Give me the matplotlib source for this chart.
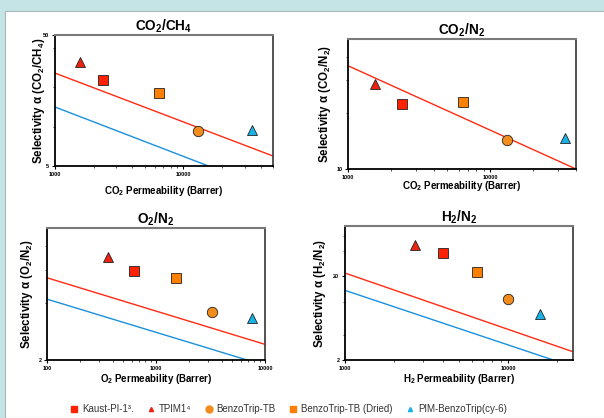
import matplotlib
matplotlib.use('Agg')
import matplotlib.pyplot as plt
from matplotlib.patches import Rectangle
from matplotlib.lines import Line2D
from matplotlib.ticker import FixedLocator, NullFormatter

plt.rcParams['font.family'] = ['Liberation Sans', 'DejaVu Sans']
plt.rcParams['mathtext.fontset'] = 'custom'
plt.rcParams['mathtext.rm'] = 'Liberation Sans:bold'
plt.rcParams['mathtext.bf'] = 'Liberation Sans:bold'

# 材料名称 (图例顺序)
materials = ['Kaust-PI-1³.', 'TPIM1⁴', 'BenzoTrip-TB', 'BenzoTrip-TB (Dried)', 'PIM-BenzoTrip(cy-6)']

# 各气体对的渗透率 / 选择性 (顺序同 materials)
co2ch4_perm = [2370, 1570, 13100, 6490, 34000]
co2ch4_sel = [22.7, 31.1, 9.25, 18.0, 9.4]
co2n2_perm = [2400, 1550, 13200, 6450, 33700]
co2n2_sel = [22.4, 28.6, 14.3, 22.9, 14.7]
o2n2_perm = [628, 363, 3265, 1525, 7590]
o2n2_sel = [5.92, 7.02, 3.59, 5.43, 3.33]
h2n2_perm = [3990, 2690, 10000, 6455, 15700]
h2n2_sel = [37.6, 48.0, 10.6, 22.3, 7.06]

# 上限线 (Robeson) 端点
co2ch4_red = ([1000, 50000], [25.6, 5.96])
co2ch4_blue = ([1000, 15700], [14.1, 5.0])
co2n2_red = ([1000, 40300], [35.9, 10.0])
o2n2_red = ([100, 10000], [5.45, 2.42])
o2n2_blue = ([100, 6840], [4.2, 2.0])
h2n2_red = ([1000, 25000], [21.9, 2.51])
h2n2_blue = ([1000, 18900], [13.6, 2.0])

# 标记样式
marker_styles = [
    ('s', '#ff2200'),
    ('^', '#ee2211'),
    ('o', '#f28c1c'),
    ('s', '#ff8000'),
    ('^', '#17b2e6'),
]
red_line = '#ff2a12'
blue_line = '#1a90dc'

fig = plt.figure(figsize=(6.04, 4.18), dpi=100)
fig.patch.set_facecolor('#c4e4e6')
fig.patches.append(Rectangle((5/604, 0), 1, 1 - 11/418, transform=fig.transFigure,
                             facecolor='white', edgecolor='#a8b8ba', linewidth=0.8,
                             zorder=-10))


def draw_panel(rect, title, xlabel, ylabel, perm, sel, lines, xlim, ylim,
               xlabels, ylabels, yminor, xlab_y, ylab_x):
    ax = fig.add_axes(rect)
    ax.set_facecolor('white')
    ax.set_xscale('log')
    ax.set_yscale('log')
    ax.set_xlim(*xlim)
    ax.set_ylim(*ylim)
    for (xs, ys), c in lines:
        ax.plot(xs, ys, color=c, linewidth=1.0, zorder=2)
    for p, s, (m, c) in zip(perm, sel, marker_styles):
        ms = 7 if m != 'o' else 7.5
        ax.plot([p], [s], marker=m, color=c, markeredgecolor='#222222',
                markeredgewidth=0.6, markersize=ms, linestyle='none', zorder=3)
    ax.xaxis.set_major_locator(FixedLocator(xlabels))
    ax.xaxis.set_major_formatter(plt.FuncFormatter(lambda v, pos: '%d' % v))
    ax.xaxis.set_minor_formatter(NullFormatter())
    ax.yaxis.set_major_locator(FixedLocator(ylabels))
    ax.yaxis.set_major_formatter(plt.FuncFormatter(lambda v, pos: '%d' % v))
    ax.yaxis.set_minor_locator(FixedLocator(yminor))
    ax.yaxis.set_minor_formatter(NullFormatter())
    ax.tick_params(axis='both', which='major', labelsize=4, length=2.5, width=0.8,
                   direction='out', pad=1.5)
    ax.tick_params(axis='both', which='minor', length=1.5, width=0.5, direction='out')
    for lab in ax.get_xticklabels() + ax.get_yticklabels():
        lab.set_fontweight('bold')
    for side in ['left', 'bottom']:
        ax.spines[side].set_linewidth(1.3)
        ax.spines[side].set_color('black')
    ax.spines['top'].set_linewidth(1.5)
    ax.spines['top'].set_color('#7a7a7a')
    ax.spines['right'].set_linewidth(1.3)
    ax.spines['right'].set_color('#444444')
    ax.set_title(title, fontsize=9.8, fontweight='bold', pad=2)
    ax.set_xlabel(xlabel, fontsize=7, fontweight='bold')
    ax.set_ylabel(ylabel, fontsize=8.3, fontweight='bold')
    ax.xaxis.set_label_coords(0.5, xlab_y)
    ax.yaxis.set_label_coords(ylab_x, 0.5)
    return ax


draw_panel([55/604, 1 - 166/418, 218/604, 131/418],
           r'CO$_2$/CH$_4$', r'CO$_2$ Permeability (Barrer)',
           r'Selectivity α (CO$_2$/CH$_4$)',
           co2ch4_perm, co2ch4_sel,
           [(co2ch4_red, red_line), (co2ch4_blue, blue_line)],
           (1000, 50000), (5, 50), [1000, 10000], [5, 50], [10, 20, 40],
           -0.135, -0.035)

draw_panel([348/604, 1 - 169/418, 228/604, 130/418],
           r'CO$_2$/N$_2$', r'CO$_2$ Permeability (Barrer)',
           r'Selectivity α (CO$_2$/N$_2$)',
           co2n2_perm, co2n2_sel,
           [(co2n2_red, red_line)],
           (1000, 40300), (10, 50), [1000, 10000], [10], [20, 30, 40],
           -0.075, -0.066)

draw_panel([47/604, 1 - 360/418, 218/604, 132/418],
           r'O$_2$/N$_2$', r'O$_2$ Permeability (Barrer)',
           r'Selectivity α (O$_2$/N$_2$)',
           o2n2_perm, o2n2_sel,
           [(o2n2_red, red_line), (o2n2_blue, blue_line)],
           (100, 10000), (2, 10), [100, 1000, 10000], [2], [4, 6, 8],
           -0.09, -0.055)

draw_panel([345/604, 1 - 360/418, 228/604, 134/418],
           r'H$_2$/N$_2$', r'H$_2$ Permeability (Barrer)',
           r'Selectivity α (H$_2$/N$_2$)',
           h2n2_perm, h2n2_sel,
           [(h2n2_red, red_line), (h2n2_blue, blue_line)],
           (1000, 25000), (2, 80), [1000, 10000], [2, 20], [4, 10, 40, 60],
           -0.09, -0.075)

# 图例
legend_markers = [('s', '#ff2200', 4), ('^', '#ee2211', 3), ('o', '#f28c1c', 5),
                  ('s', '#ff8000', 4), ('^', '#17b2e6', 3)]
handles = [Line2D([], [], marker=m, color=c, markersize=s, linestyle='none')
           for m, c, s in legend_markers]
leg = fig.legend(handles, materials, loc='center', bbox_to_anchor=(288/604, 1 - 409/418),
                 ncol=5, frameon=False, fontsize=7, handletextpad=0.3,
                 columnspacing=1.3, handlelength=1.0)
for t in leg.get_texts():
    t.set_color('#333333')

plt.savefig('out.png', dpi=100, facecolor=fig.get_facecolor())
